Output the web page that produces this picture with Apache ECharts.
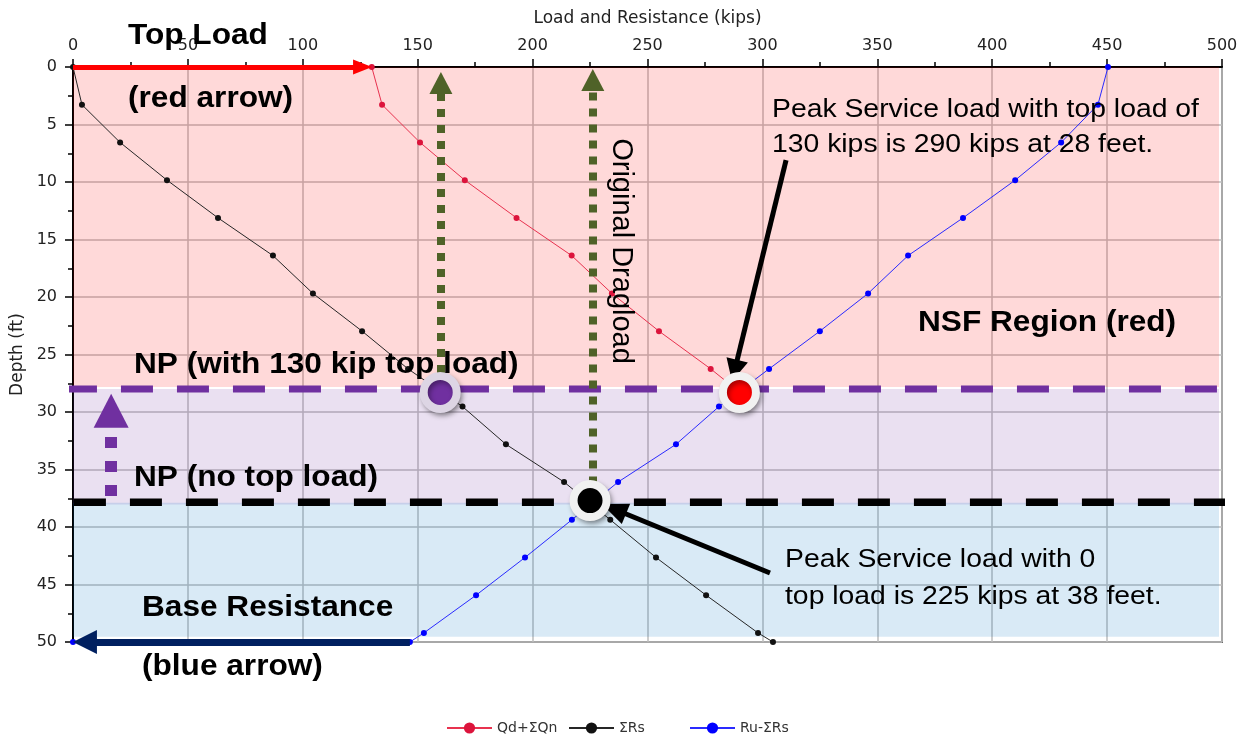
<!DOCTYPE html>
<html><head><meta charset="utf-8">
<script src="https://cdn.jsdelivr.net/npm/echarts@6/dist/echarts.min.js"></script>
<style>html,body{margin:0;padding:0;background:#fff}#c{width:1248px;height:738px}</style>
</head><body><div id="c"></div>
<script>
// ---- data ----
const depth = [0, 3.28, 6.56, 9.84, 13.12, 16.40, 19.69, 22.97, 26.25, 29.53, 32.81, 36.09, 39.37, 42.65, 45.93, 49.21, 50];
const qdQnDepth = [0, 3.28, 6.56, 9.84, 13.12, 16.40, 19.69, 22.97, 26.25, 28.1];
const qdQn = [130, 134.5, 151, 170.5, 193, 217, 234.5, 255, 277.5, 289];
const sumRs = [0, 3.9, 20.5, 40.9, 63.1, 87, 104.4, 125.8, 145.8, 169.5, 188.4, 213.7, 233.8, 253.7, 275.5, 298.1, 304.6];
const ruRsDepth = [0, 3.28, 6.56, 9.84, 13.12, 16.40, 19.69, 22.97, 26.25, 29.53, 32.81, 36.09, 39.37, 42.65, 45.93, 49.21, 50, 50];
const ruRs = [450.4, 446, 430, 410, 387.3, 363.4, 346, 325, 302.9, 281.1, 262.4, 237.2, 217.1, 196.7, 175.4, 152.7, 146.6, 0];
const seriesNames = ['Qd+ΣQn', 'ΣRs', 'Ru-ΣRs'];
const npWithTopLoad = [159.8, 28.3];
const peakWithTopLoad = [290, 28.3];
const npNoTopLoad = [225, 37.7];
const npDepthTop = 28;
const npDepthNoTop = 37.85;

const pairs = (xs, ys) => xs.map((v, i) => [v, ys[i]]);

const FONT = '"Liberation Sans", Arial, sans-serif';
const AXFONT = '"DejaVu Sans", sans-serif';

function arrowSeries(from, to, color, width, dash, head, z) {
  return {
    type: 'line', data: [], silent: true, z: z, animation: false,
    markLine: {
      silent: true, animation: false, z: z, label: { show: false }, emphasis: { disabled: true },
      lineStyle: { color: color, width: width, type: dash, cap: 'butt', opacity: 1 },
      symbol: ['none', 'triangle'],
      data: [[{ coord: from, symbol: 'none' }, { coord: to, symbol: 'triangle', symbolSize: head }]]
    }
  };
}

function txt(text, x, y, bold, size, extra) {
  return Object.assign({
    type: 'text', x: x, y: y, z: 100, silent: true, scaleX: 1.09,
    style: {
      text: text, fill: '#000',
      font: (bold ? 'bold ' : '') + size + 'px ' + FONT,
      align: 'left', verticalAlign: 'middle', textAlign: 'left', textVerticalAlign: 'middle'
    }
  }, extra || {});
}

const chart = echarts.init(document.getElementById('c'));
const lineCommon = { type: 'line', symbol: 'circle', symbolSize: 6, silent: true, z: 3, clip: false };
const dotStyle = (fill, ring) => ({
  color: fill, opacity: 1, borderColor: ring, borderWidth: 8,
  shadowBlur: 5, shadowOffsetX: 2, shadowOffsetY: 3, shadowColor: 'rgba(0,0,0,0.35)'
});

chart.setOption({
  animation: false,
  backgroundColor: '#fff',
  grid: {
    left: 73, right: 26, top: 67, bottom: 96,
    containLabel: false, outerBoundsMode: 'none',
    show: true, borderColor: '#6b6b6b', borderWidth: 2, backgroundColor: 'transparent'
  },
  xAxis: {
    type: 'value', position: 'top', min: 0, max: 500, interval: 50,
    name: 'Load and Resistance (kips)', nameLocation: 'middle', nameGap: 40,
    nameTextStyle: { color: '#222', fontSize: 17, fontFamily: AXFONT },
    axisLine: { show: true, lineStyle: { color: '#000', width: 2 } },
    axisTick: { show: true, length: 8, lineStyle: { color: '#000', width: 1.5 } },
    minorTick: { show: true, splitNumber: 2, length: 5, lineStyle: { color: '#000', width: 1.5 } },
    axisLabel: { color: '#222', fontSize: 16, fontFamily: AXFONT, margin: 13 },
    splitLine: { show: true, lineStyle: { color: '#bdbdbd', width: 1.5 } }
  },
  yAxis: {
    type: 'value', inverse: true, min: 0, max: 50, interval: 5,
    name: 'Depth (ft)', nameLocation: 'middle', nameGap: 36,
    nameTextStyle: { color: '#222', fontSize: 17, fontFamily: AXFONT },
    axisLine: { show: true, lineStyle: { color: '#000', width: 2 } },
    axisTick: { show: true, length: 8, lineStyle: { color: '#000', width: 1.5 } },
    minorTick: { show: true, splitNumber: 2, length: 5, lineStyle: { color: '#000', width: 1.5 } },
    axisLabel: { color: '#222', fontSize: 16, fontFamily: AXFONT, margin: 16 },
    splitLine: { show: true, lineStyle: { color: '#bdbdbd', width: 1.5 } }
  },
  legend: [0, 1, 2].map((i) => ({
    data: [seriesNames[i]], left: [446, 568, 689][i], top: 721, padding: 0,
    itemWidth: 45, itemHeight: 14, itemGap: 5, selectedMode: false,
    textStyle: { color: '#333', fontSize: 14, fontFamily: AXFONT }
  })),
  series: [
    {
      type: 'line', data: [], silent: true, z: 1,
      markArea: {
        silent: true, z: 1, label: { show: false }, emphasis: { disabled: true },
        data: [
          [{ xAxis: 0, yAxis: 0, itemStyle: { color: 'rgba(255,0,0,0.15)' } }, { xAxis: 498.7, yAxis: 27.82 }],
          [{ xAxis: 0, yAxis: 28.0, itemStyle: { color: 'rgba(112,48,160,0.15)' } }, { xAxis: 498.7, yAxis: 38.05 }],
          [{ xAxis: 0, yAxis: 37.9, itemStyle: { color: 'rgba(0,112,192,0.15)' } }, { xAxis: 498.7, yAxis: 49.55 }]
        ]
      }
    },
    Object.assign({}, lineCommon, {
      name: seriesNames[0], data: pairs(qdQn, qdQnDepth), color: '#dc143c',
      itemStyle: { color: '#dc143c' }, lineStyle: { color: '#e8324f', width: 1 }
    }),
    Object.assign({}, lineCommon, {
      name: seriesNames[1], data: pairs(sumRs, depth), color: '#000',
      itemStyle: { color: '#111' }, lineStyle: { color: '#262626', width: 1 }
    }),
    Object.assign({}, lineCommon, {
      name: seriesNames[2], data: pairs(ruRs, ruRsDepth), color: '#0000ff',
      itemStyle: { color: '#0000ff' }, lineStyle: { color: '#2a2aff', width: 1 }
    }),
    {
      type: 'line', data: [[-3.5, npDepthTop], [497.8, npDepthTop]], symbol: 'none', silent: true, z: 4, clip: false,
      lineStyle: { color: '#7030a0', width: 7, type: [32, 24], cap: 'butt' }
    },
    {
      type: 'line', data: [[0.4, npDepthNoTop], [501.3, npDepthNoTop]], symbol: 'none', silent: true, z: 4, clip: false,
      lineStyle: { color: '#000', width: 7.5, type: [32, 24], cap: 'butt' }
    },
    arrowSeries([0, 0], [126.0, 0], '#ff0000', 5, 'solid', [15, 19], 6),
    arrowSeries([146.6, 50], [5.2, 50], '#002060', 7, 'solid', [24, 24], 6),
    arrowSeries([160.1, 28], [160.1, 1.39], '#4f6228', 8, [8, 8], [23, 22], 6),
    arrowSeries([226.2, 37.7], [226.2, 1.13], '#4f6228', 8, [8, 8], [23, 22], 6),
    arrowSeries([16.6, 37.3], [16.6, 29.9], '#7030a0', 12, [11, 13], [35, 34], 6),
    arrowSeries([310.3, 8.09], [287.9, 26.4], '#000', 5, 'solid', [22, 22], 7),
    arrowSeries([303.3, 44.0], [235.4, 38.43], '#000', 5, 'solid', [22, 26], 7),
    {
      type: 'scatter', silent: true, z: 20, symbolSize: 33,
      emphasis: { disabled: true },
      data: [
        { value: npWithTopLoad, itemStyle: dotStyle('#7030a0', '#ddd5e4') },
        { value: peakWithTopLoad, itemStyle: dotStyle('#ff0000', '#f1f1f1') },
        { value: npNoTopLoad, itemStyle: dotStyle('#000000', '#f1f1f1') }
      ]
    }
  ],
  graphic: [
    txt('Top Load', 128, 36, true, 29),
    txt('(red arrow)', 128, 99, true, 29),
    txt('Peak Service load with top load of', 772, 110, false, 26),
    txt('130 kips is 290 kips at 28 feet.', 772, 145, false, 26),
    txt('NSF Region (red)', 918, 323, true, 29),
    txt('NP (with 130 kip top load)', 134, 365, true, 29),
    txt('NP (no top load)', 134, 478, true, 29),
    txt('Base Resistance', 142, 608, true, 29),
    txt('(blue arrow)', 142, 667, true, 29),
    txt('Peak Service load with 0', 785, 560, false, 26),
    txt('top load is 225 kips at 38 feet.', 785, 597, false, 26),
    {
      type: 'text', x: 621, y: 251, z: 100, silent: true, rotation: -Math.PI / 2,
      style: { text: 'Original Dragload', fill: '#000', font: '29px ' + FONT,
        align: 'center', verticalAlign: 'middle', textAlign: 'center', textVerticalAlign: 'middle' }
    }
  ]
});
</script></body></html>
